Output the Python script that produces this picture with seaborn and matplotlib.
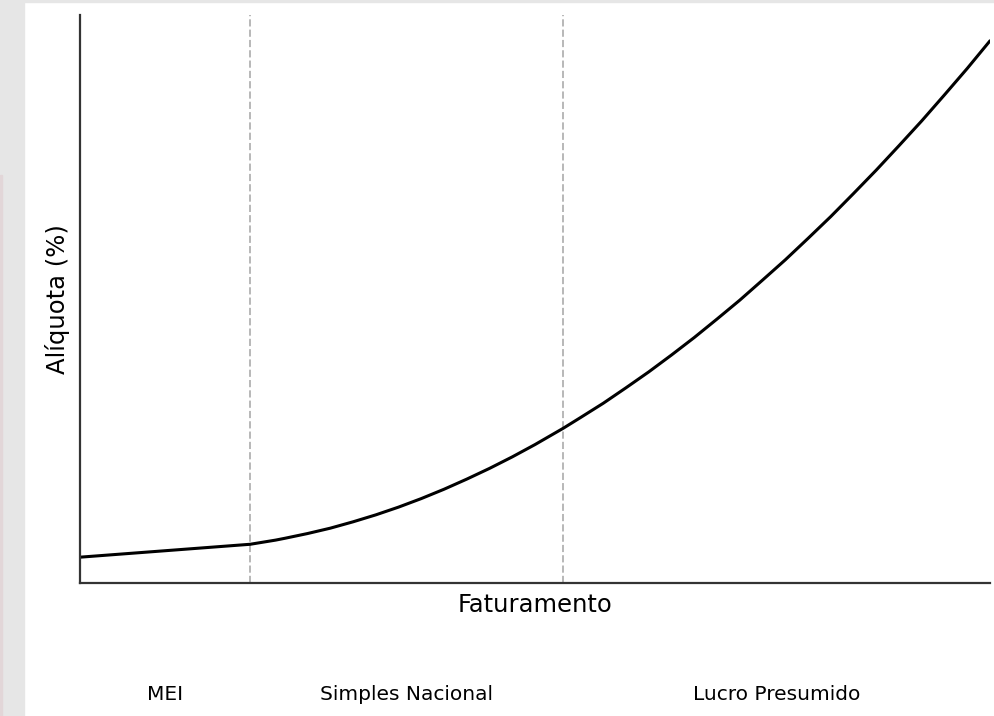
import matplotlib
matplotlib.use("Agg")
import matplotlib.pyplot as plt
import matplotlib.transforms as mtransforms
from matplotlib.patches import Rectangle
import seaborn as sns
import pandas as pd

# -------------------------------
# Data (arbitrary units)
# -------------------------------
faturamento = [0, 18.7, 21.5, 22.5, 25, 27.5, 30, 32.5, 35, 37.5, 40, 42.5, 45,
               47.5, 50, 53.1, 55, 57.5, 60, 62.5, 65, 67.5, 70, 72.5, 75,
               77.5, 80, 82.5, 85, 87.5, 90, 92.5, 95, 97.5, 100]
aliquota = [4.00, 4.65, 4.86, 4.95, 5.19, 5.46, 5.78, 6.13, 6.52, 6.95, 7.42,
            7.93, 8.47, 9.05, 9.67, 10.49, 11.03, 11.75, 12.53, 13.33, 14.18,
            15.06, 15.99, 16.94, 17.95, 18.97, 20.05, 21.15, 22.31, 23.49,
            24.72, 25.97, 27.28, 28.61, 30.00]

limites = [18.7, 53.1]          # MEI | Simples | Lucro Presumido
faixas = ["MEI", "Simples Nacional", "Lucro Presumido"]

df = pd.DataFrame({"Faturamento": faturamento, "Aliquota": aliquota})

# -------------------------------
# Plot
# -------------------------------
sns.set_style("white")
plt.rcParams["font.family"] = ["DejaVu Sans"]

fig = plt.figure(figsize=(9.94, 7.16), dpi=100)
ax = fig.add_axes([80 / 994, 133 / 716, 910 / 994, 568 / 716])

sns.lineplot(data=df, x="Faturamento", y="Aliquota", color="black",
             linewidth=2.2, ax=ax)

for lim in limites:
    ax.axvline(lim, color="#b8b8b8", linestyle="--", linewidth=1.4, zorder=0)

ax.set_xlim(0, 100)
ax.set_xticks([])
ax.set_yticks([])
ax.set_xlabel("Faturamento", fontsize=17.5, labelpad=7, color="black")
ax.set_ylabel("Alíquota (%)", fontsize=17.5, labelpad=7, color="black")

sns.despine(ax=ax)
for side in ["left", "bottom"]:
    ax.spines[side].set_color("#333333")
    ax.spines[side].set_linewidth(1.6)

# labels of each regime, centred under its range
bordas = [0] + limites + [100]
trans = mtransforms.blended_transform_factory(ax.transData, ax.transAxes)
for i, nome in enumerate(faixas):
    meio = (bordas[i] + bordas[i + 1]) / 2
    ax.text(meio, -0.197, nome, transform=trans, ha="center", va="center",
            fontsize=14.5, color="black")

# screenshot frame (grey strip on the left and top)
fig.patches.append(Rectangle((0, 0), 24 / 994, 1, transform=fig.transFigure,
                             color="#e6e6e6", zorder=-1))
fig.patches.append(Rectangle((0, 1 - 2 / 716), 1, 2 / 716,
                             transform=fig.transFigure, color="#e6e6e6", zorder=-1))
fig.patches.append(Rectangle((0, 0), 2 / 994, 541 / 716, transform=fig.transFigure,
                             color="#e2d6d8", zorder=-1))

fig.savefig("out.png", dpi=100)
